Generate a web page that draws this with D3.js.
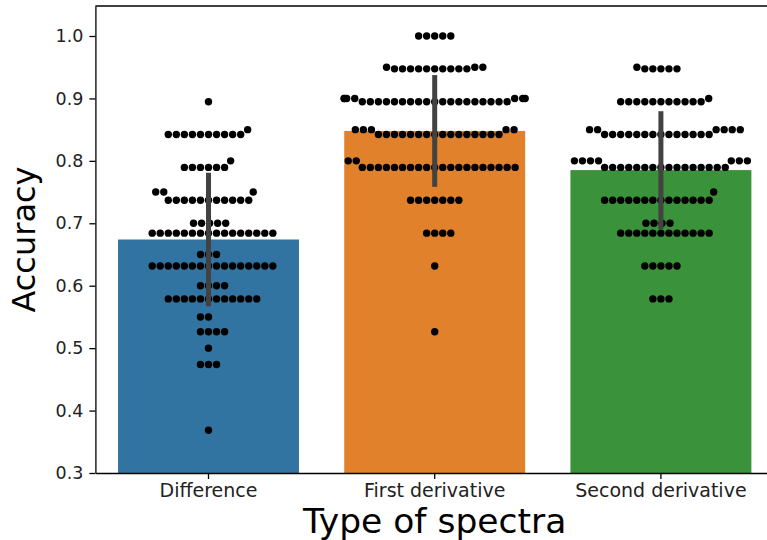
<!DOCTYPE html>
<html>
<head>
<meta charset="utf-8">
<script src="https://cdn.jsdelivr.net/npm/d3@7"></script>
<style>
  body { margin: 0; background: #fff; }
  text { font-family: "DejaVu Sans", sans-serif; }
</style>
</head>
<body>
<svg id="chart" width="767" height="540"></svg>
<script>
// categories and colours of the bars
const categories = ["Difference", "First derivative", "Second derivative"];
const barColors = ["#3274a1", "#e1812c", "#3a923a"];

// swarm points per category: [accuracy, number of runs with that accuracy]
const differenceScores = [
  [0.3684, 1], [0.4737, 3], [0.5, 1], [0.5263, 4], [0.55, 2], [0.5789, 12],
  [0.6, 4], [0.6316, 16], [0.65, 3], [0.6842, 16], [0.7, 5], [0.7368, 11],
  [0.75, 3], [0.7895, 6], [0.8, 1], [0.8421, 10], [0.85, 1], [0.8947, 1]
];
const firstDerivativeScores = [
  [0.5263, 1], [0.6316, 1], [0.6842, 4], [0.7368, 7], [0.7895, 20], [0.8, 2],
  [0.8421, 16], [0.85, 5], [0.8947, 19], [0.9, 7], [0.9474, 10], [0.95, 3], [1.0, 5]
];
const secondDerivativeScores = [
  [0.5789, 3], [0.6316, 5], [0.6842, 12], [0.7, 4], [0.7368, 14], [0.75, 1],
  [0.7895, 16], [0.8, 7], [0.8421, 14], [0.85, 6], [0.8947, 11], [0.9, 1],
  [0.9474, 5], [0.95, 1]
];
const yTicks = [0.3, 0.4, 0.5, 0.6, 0.7, 0.8, 0.9, 1.0];

const allScores = [differenceScores, firstDerivativeScores, secondDerivativeScores];

const svg = d3.select("#chart");
const mLeft = 95.4, mRight = 774, mTop = 6, mBottom = 473;

const x = d3.scaleBand()
    .domain(categories)
    .range([mLeft, mRight])
    .paddingInner(0.2)
    .paddingOuter(0.1);

// 0.3 sits on the bottom spine, 1.0 at y=36
let yPerUnit = (mBottom - 36) / 0.7;
const y = d3.scaleLinear()
    .domain([0.3, 0.3 + (mBottom - mTop) / yPerUnit])
    .range([mBottom, mTop]);

// expand [value, count] rows to a flat list of values
function expand(rows) {
    let out = [];
    rows.forEach(function (r) {
        for (let i = 0; i < r[1]; i++) out.push(r[0]);
    });
    return out;
}

let stats = allScores.map(function (rows, i) {
    let vals = expand(rows);
    return {cat: categories[i], vals: vals, mean: d3.mean(vals), sd: d3.deviation(vals)};
});

// bars
svg.append("g").selectAll("rect")
    .data(stats)
    .enter().append("rect")
    .attr("x", function (d) { return x(d.cat); })
    .attr("width", x.bandwidth())
    .attr("y", function (d) { return y(d.mean); })
    .attr("height", function (d) { return mBottom - y(d.mean); })
    .attr("fill", function (d, i) { return barColors[i]; });

// beeswarm placement (same idea as seaborn's swarmplot)
const r = 3.83;
const ySquash = 1.3;   // swarm works in squashed y space
function swarm(vals, cx, halfWidth) {
    let pts = vals.slice().sort(d3.ascending).map(function (v) {
        return {v: v, x: cx, y: y(v) / ySquash};
    });
    let placed = [pts[0]];
    for (let i = 1; i < pts.length; i++) {
        let p = pts[i];
        let nb = [];
        for (let j = placed.length - 1; j >= 0; j--) {
            if (placed[j].y - p.y < 2 * r) nb.push(placed[j]);
            else break;
        }
        let cands = [p.x];
        let leftFirst = true;
        nb.forEach(function (q) {
            let dy = p.y - q.y;
            let dx = Math.sqrt(Math.max(4 * r * r - dy * dy, 0)) * 1.05;
            if (leftFirst) cands.push(q.x - dx, q.x + dx);
            else cands.push(q.x + dx, q.x - dx);
            leftFirst = !leftFirst;
        });
        cands.sort(function (a, b) { return Math.abs(a - cx) - Math.abs(b - cx); });
        let chosen = cands[cands.length - 1];
        for (let c of cands) {
            let ok = nb.every(function (q) {
                return (q.x - c) * (q.x - c) + (q.y - p.y) * (q.y - p.y) >= 4 * r * r - 1e-9;
            });
            if (ok) { chosen = c; break; }
        }
        placed.push({v: p.v, x: chosen, y: p.y});
    }
    return placed.map(function (p) {
        return {v: p.v, x: Math.max(cx - halfWidth, Math.min(cx + halfWidth, p.x))};
    });
}

stats.forEach(function (s) {
    let cx = x(s.cat) + x.bandwidth() / 2;
    let pts = swarm(s.vals, cx, x.bandwidth() / 2);
    svg.append("g").selectAll("circle")
        .data(pts)
        .enter().append("circle")
        .attr("cx", function (d) { return d.x; })
        .attr("cy", function (d) { return y(d.v); })
        .attr("r", 3.7)
        .attr("fill", "#000");
});

// error bars (mean +- sd)
svg.append("g").selectAll("line")
    .data(stats)
    .enter().append("line")
    .attr("x1", function (d) { return x(d.cat) + x.bandwidth() / 2; })
    .attr("x2", function (d) { return x(d.cat) + x.bandwidth() / 2; })
    .attr("y1", function (d) { return y(d.mean - d.sd); })
    .attr("y2", function (d) { return y(d.mean + d.sd); })
    .attr("stroke", "#424242")
    .attr("stroke-linecap", "square")
    .attr("stroke-width", 5);

// axes
let yAxis = svg.append("g")
    .attr("transform", "translate(" + mLeft + ",0)")
    .call(d3.axisLeft(y).tickValues(yTicks).tickFormat(d3.format(".1f")).tickSize(6).tickPadding(6).tickSizeOuter(0));
let xAxis = svg.append("g")
    .attr("transform", "translate(0," + mBottom + ")")
    .call(d3.axisBottom(x).tickSize(6).tickPadding(5).tickSizeOuter(0));
yAxis.selectAll("text").attr("font-size", 17.5);
xAxis.selectAll("text").attr("font-size", 19);
[xAxis, yAxis].forEach(function (g) {
    g.selectAll("text").attr("fill", "#222").attr("font-family", "DejaVu Sans, sans-serif");
    g.selectAll("line").attr("stroke", "#000").attr("stroke-width", 1.3);
    g.select(".domain").attr("stroke", "#000").attr("stroke-width", 1.3);
});
// top and right spines
svg.append("line").attr("x1", mLeft).attr("x2", mRight).attr("y1", mTop).attr("y2", mTop)
    .attr("stroke", "#000").attr("stroke-width", 1.3);
svg.append("line").attr("x1", mRight).attr("x2", mRight).attr("y1", mTop).attr("y2", mBottom)
    .attr("stroke", "#000").attr("stroke-width", 1.3);

// axis titles
svg.append("text")
    .attr("transform", "translate(35," + (mTop + mBottom) / 2 + ") rotate(-90)")
    .attr("text-anchor", "middle")
    .attr("font-size", 32)
    .attr("fill", "#000")
    .text("Accuracy");
svg.append("text")
    .attr("x", (mLeft + mRight) / 2)
    .attr("y", 533)
    .attr("text-anchor", "middle")
    .attr("font-size", 34.5)
    .attr("fill", "#000")
    .text("Type of spectra");
</script>
</body>
</html>
